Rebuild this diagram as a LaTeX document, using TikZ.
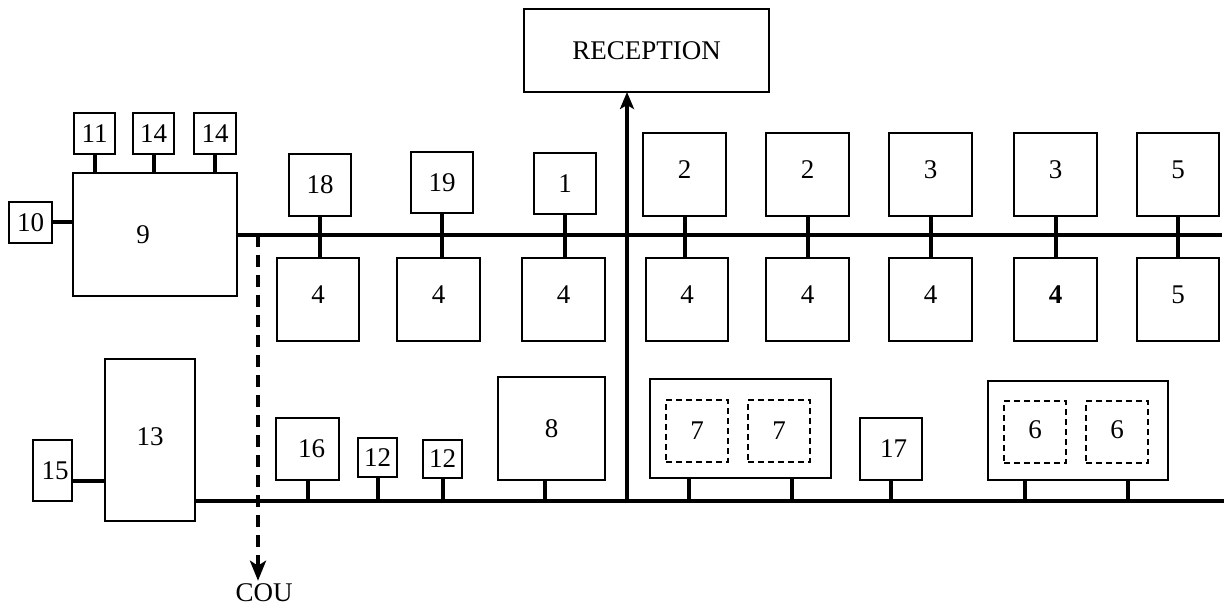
\documentclass[tikz,border=0pt]{standalone}
\usepackage{fontspec}
\setmainfont{Liberation Serif}
\usetikzlibrary{arrows.meta,calc}
\newcommand\bx[7][box]{\node[#1,minimum width={(#5-#3)*1pt},minimum height={(#6-#4)*1pt}] (#2) at ({(#3+#5)/2},{(#4+#6)/2}) {#7};}
\begin{document}
\begin{tikzpicture}[x=1pt,y=-1pt,
  box/.style={draw,line width=1.8pt,inner sep=0pt,outer sep=0pt,font=\fontsize{27}{30}\selectfont},
  ubox/.style={box,text depth=9pt},
  dbox/.style={box,dash pattern=on 6pt off 4pt},
  bus/.style={line width=3.8pt},
  stub/.style={line width=4pt},
  dline/.style={line width=4.2pt,dash pattern=on 12pt off 8pt},
  lbl/.style={inner sep=0pt,font=\fontsize{27}{30}\selectfont}]
\useasboundingbox (0,0) rectangle (1225,609);
% reception
\bx{rec}{524}{9}{769}{92}{RECEPTION}
% block 9 and its satellites
\bx{b9}{73}{173}{237}{296}{9\hspace*{24pt}}
\bx{b11}{74}{113}{115}{154}{11}
\bx{b14a}{133}{113}{174}{154}{14}
\bx{b14b}{194}{113}{236}{154}{14}
\bx{b10}{9}{202}{52}{243}{10}
% block 13
\bx[box,text depth=6pt]{b13}{105}{359}{195}{521}{13}
\bx{b15}{33}{440}{72}{501}{\hspace*{5pt}15}
% upper row
\bx{b18}{289}{154}{351}{216}{18}
\bx{b19}{411}{152}{473}{213}{19}
\bx{b1}{534}{153}{596}{214}{1}
\bx[ubox]{b2a}{643}{133}{726}{216}{2}
\bx[ubox]{b2b}{766}{133}{849}{216}{2}
\bx[ubox]{b3a}{889}{133}{972}{216}{3}
\bx[ubox]{b3b}{1014}{133}{1097}{216}{3}
\bx[ubox]{b5a}{1137}{133}{1219}{216}{5}
\bx[ubox]{b4a}{277}{258}{359}{341}{4}
\bx[ubox]{b4b}{397}{258}{480}{341}{4}
\bx[ubox]{b4c}{522}{258}{605}{341}{4}
\bx[ubox]{b4d}{646}{258}{728}{341}{4}
\bx[ubox]{b4e}{766}{258}{849}{341}{4}
\bx[ubox]{b4f}{889}{258}{972}{341}{4}
\bx[ubox,line width=2.2pt]{b4g}{1014}{258}{1097}{341}{\bfseries 4}
\bx[ubox]{b5b}{1137}{258}{1219}{341}{5}
% lower row
\bx{b16}{276}{418}{339}{480}{\hspace*{8pt}16}
\bx{b12a}{358}{438}{397}{477}{12}
\bx{b12b}{423}{440}{462}{478}{12}
\bx{b8}{498}{377}{605}{480}{8}
\bx{b7}{650}{379}{831}{478}{}
\bx[dbox]{b7a}{666}{400}{728}{462}{7}
\bx[dbox]{b7b}{748}{400}{810}{462}{7}
\bx{b17}{860}{418}{922}{480}{\hspace*{5pt}17}
\bx{b6}{988}{381}{1168}{480}{}
\bx[dbox,text depth=4pt]{b6a}{1004}{401}{1066}{463}{6}
\bx[dbox,text depth=4pt]{b6b}{1086}{401}{1148}{463}{6}
\node[lbl] (cou) at (264,593) {COU};
% buses
\coordinate (tR) at (1222,235);
\coordinate (bL) at (195,501);
\coordinate (bR) at (1224,501);
\coordinate (rB) at (627,501);
\coordinate (dT) at (258,235);
\draw[bus] (b9.east |- tR) -- (tR);
\draw[bus] (bL) -- (bR);
% stubs around 9 and 13
\foreach \n in {b11,b14a,b14b}{\draw[stub] (\n.south) -- (\n.south |- b9.north);}
\draw[stub] (b10.east) -- (b10.east -| b9.west);
\draw[stub] ([yshift=-10pt]b15.east) -- ([yshift=-10pt]b15.east -| b13.west);
% upper stubs
\foreach \u/\l in {b18/b4a,b19/b4b,b1/b4c,b2a/b4d,b2b/b4e,b3a/b4f,b3b/b4g,b5a/b5b}{\draw[stub] (\u.south) -- (\u.south |- \l.north);}
% lower stubs
\foreach \n in {b16,b12a,b12b,b17}{\draw[stub] (\n.south) -- (\n.south |- bR);}
\draw[stub] ([xshift=-7pt]b8.south) -- ([xshift=-7pt]b8.south |- bR);
\draw[stub] ([xshift=-52pt]b7.south) -- ([xshift=-52pt]b7.south |- bR);
\draw[stub] ([xshift=51pt]b7.south) -- ([xshift=51pt]b7.south |- bR);
\draw[stub] ([xshift=-53pt]b6.south) -- ([xshift=-53pt]b6.south |- bR);
\draw[stub] ([xshift=50pt]b6.south) -- ([xshift=50pt]b6.south |- bR);
% reception arrow
\draw[bus,-{Stealth[length=17pt,width=14pt,inset=4pt]}] (rB) -- (rB |- rec.south);
% COU dashed arrow
\draw[dline,-{Stealth[length=20pt,width=16pt,inset=5pt]}] (dT) -- ([yshift=3pt]dT |- cou.north);
\end{tikzpicture}
\end{document}
